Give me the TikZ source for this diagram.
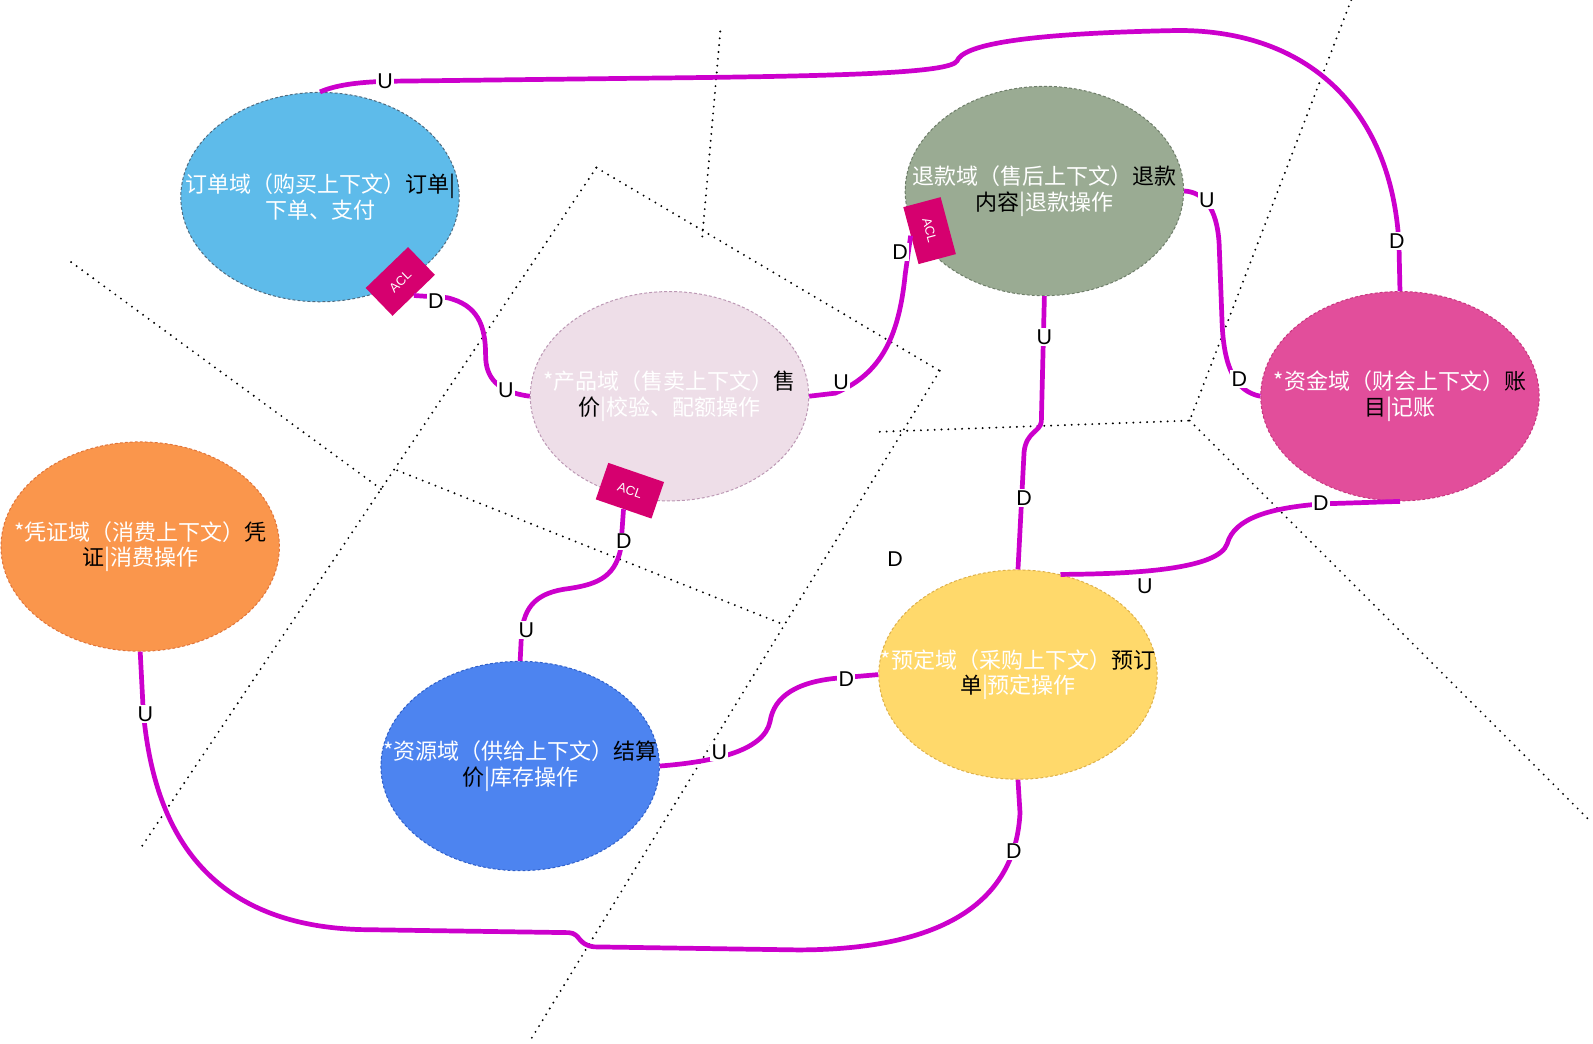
\documentclass[tikz,border=0pt]{standalone}
\usepackage{fontspec}
\setmainfont{Liberation Sans}
\newfontfamily\cjk{Noto Sans CJK SC}
\usetikzlibrary{positioning,shapes.geometric}
\definecolor{linkc}{HTML}{CC00CC}
\definecolor{aclc}{HTML}{D6006F}
\definecolor{orderc}{HTML}{5EBBEA}
\definecolor{orderb}{HTML}{4F6B80}
\definecolor{productc}{HTML}{EEDEE8}
\definecolor{productb}{HTML}{BC98B4}
\definecolor{refundc}{HTML}{9AAB93}
\definecolor{refundb}{HTML}{6E7D69}
\definecolor{fundc}{HTML}{E24E9B}
\definecolor{fundb}{HTML}{C8367F}
\definecolor{voucherc}{HTML}{FA964C}
\definecolor{voucherb}{HTML}{E0743A}
\definecolor{bookingc}{HTML}{FFD96B}
\definecolor{bookingb}{HTML}{DDB04A}
\definecolor{resourcec}{HTML}{4D84F0}
\definecolor{resourceb}{HTML}{2F5FC8}

\begin{document}
\begin{tikzpicture}[x=0.025cm, y=-0.025cm,
        ctx/.style={ellipse, dash pattern=on 2pt off 1.5pt, line width=0.7pt, minimum width=6.85cm, minimum height=5.15cm, inner sep=0pt},
        ctxtext/.style={font={\cjk\fontsize{15.4}{17.8}\selectfont}, text=white, align=center, inner sep=0pt},
        acl/.style={fill=aclc, minimum width=1.45cm, minimum height=0.95cm, inner sep=0pt, text=white, font=\fontsize{9}{9}\selectfont},
        relline/.style={draw=linkc, line width=3.3pt},
        rellabel/.style={fill=white, inner sep=1pt, font=\fontsize{15}{15}\selectfont},
        fence/.style={line width=1.5pt, line cap=round, dash pattern=on 0pt off 4.8pt}]
        \path[use as bounding box, fill=white] (0,0) rectangle (1568,1027);

        \draw[fence] (70,258) -- (376,482);
        \draw[fence] (391,463) -- (772,615);
        \draw[fence] (587,165) -- (137,837);
        \draw[fence] (587,165) -- (925,365);
        \draw[fence] (925,365) -- (522,1024);
        \draw[fence] (709,31) -- (691,236);
        \draw[fence] (1330,0) -- (1171,414);
        \draw[fence] (866,425) -- (1171,414);
        \draw[fence] (1171,414) -- (1565,808);

        \node[ctx, fill=orderc, draw=orderb] (Order) at (315,194) {};
        \node[ctx, fill=productc, draw=productb] (Product) at (659,390) {};
        \node[ctx, fill=refundc, draw=refundb] (Refund) at (1028,188) {};
        \node[ctx, fill=fundc, draw=fundb] (Fund) at (1378,390) {};
        \node[ctx, fill=voucherc, draw=voucherb] (Voucher) at (138,538) {};
        \node[ctx, fill=bookingc, draw=bookingb] (Booking) at (1002,664) {};
        \node[ctx, fill=resourcec, draw=resourceb] (Resource) at (512,754) {};

        \node[ctxtext] (OrderText) at (Order) {订单域（购买上下文）{\color{black}订单|}\\下单、支付};
        \node[ctxtext] (ProductText) at (Product) {*产品域（售卖上下文）{\color{black}售}\\{\color{black}价}|校验、配额操作};
        \node[ctxtext] (RefundText) at (Refund) {退款域（售后上下文）{\color{black}退款}\\{\color{black}内容}|退款操作};
        \node[ctxtext] (FundText) at (Fund) {*资金域（财会上下文）{\color{black}账}\\{\color{black}目}|记账};
        \node[ctxtext] (VoucherText) at (Voucher) {*凭证域（消费上下文）{\color{black}凭}\\{\color{black}证}|消费操作};
        \node[ctxtext] (BookingText) at (Booking) {*预定域（采购上下文）{\color{black}预订}\\{\color{black}单}|预定操作};
        \node[ctxtext] (ResourceText) at (Resource) {*资源域（供给上下文）{\color{black}结算}\\{\color{black}价}|库存操作};

        \node[acl, rotate=44] (ACLOrder) at (394,277) {ACL};
        \node[acl, rotate=-19] (ACLProduct) at (620,483) {ACL};
        \node[acl, rotate=-75] (ACLRefund) at (915,227) {ACL};

        \draw[relline] (Order.north) .. controls (330,84) and (350,81) .. (380,80) -- (630,77) .. controls (830,75) and (935,72) .. (942,60) .. controls (948,45) and (1000,33) .. (1160,30) .. controls (1290,30) and (1370,110) .. (1377,240) -- (Fund.north);
        \draw[relline] (ACLOrder.south) -- (440,293) .. controls (470,300) and (478,320) .. (478,350) .. controls (478,372) and (490,386) .. (Product.west);
        \draw[relline] (Product.east) -- (822,387) .. controls (868,368) and (885,330) .. (891,270) -- (ACLRefund.south);
        \draw[relline] (ACLProduct.south) -- (611,540) .. controls (605,570) and (585,576) .. (555,580) .. controls (525,585) and (514,600) .. (513,630) -- (Resource.north);
        \draw[relline] (Refund.south) -- (1025,415) .. controls (1024,425) and (1010,425) .. (1008,445) -- (Booking.north);
        \draw[relline] (Refund.east) .. controls (1185,189) and (1198,205) .. (1200,240) -- (1203,320) .. controls (1205,360) and (1215,385) .. (Fund.west);
        \draw[relline] (Booking.67) .. controls (1120,565) and (1200,560) .. (1208,535) .. controls (1215,510) and (1250,500) .. (1300,496) -- (Fund.south);
        \draw[relline] (Resource.east) .. controls (700,750) and (752,740) .. (758,710) .. controls (762,685) and (785,670) .. (830,667) -- (Booking.west);
        \draw[relline] (Voucher.south) -- (141,700) .. controls (150,800) and (190,910) .. (355,915) -- (560,918) .. controls (572,919) and (568,930) .. (585,932) -- (785,935) .. controls (940,935) and (1000,880) .. (1004,800) -- (Booking.south);

        \node[rellabel] (OrderU) at (379,80) {U};
        \node[rellabel] (FundD) at (1375,237) {D};
        \node[rellabel] (ACLOrderD) at (429,296) {D};
        \node[rellabel] (ProductWestU) at (498,384) {U};
        \node[rellabel] (ProductEastU) at (828,376) {U};
        \node[rellabel] (ACLRefundD) at (886,248) {D};
        \node[rellabel] (ACLProductD) at (614,533) {D};
        \node[rellabel] (ResourceNorthU) at (518,620) {U};
        \node[rellabel] (RefundSouthU) at (1028,332) {U};
        \node[rellabel] (BookingNorthD) at (1008,490) {D};
        \node[rellabel] (RefundEastU) at (1188,197) {U};
        \node[rellabel] (FundWestD) at (1220,373) {D};
        \node[rellabel] (BookingEastU) at (1127,577) {U};
        \node[rellabel] (FundSouthD) at (1300,495) {D};
        \node[rellabel] (ResourceEastU) at (708,740) {U};
        \node[rellabel] (BookingWestD) at (833,668) {D};
        \node[rellabel] (VoucherU) at (143,703) {U};
        \node[rellabel] (BookingSouthD) at (998,838) {D};
        \node[rellabel] (LooseD) at (881,550) {D};
\end{tikzpicture}
\end{document}
